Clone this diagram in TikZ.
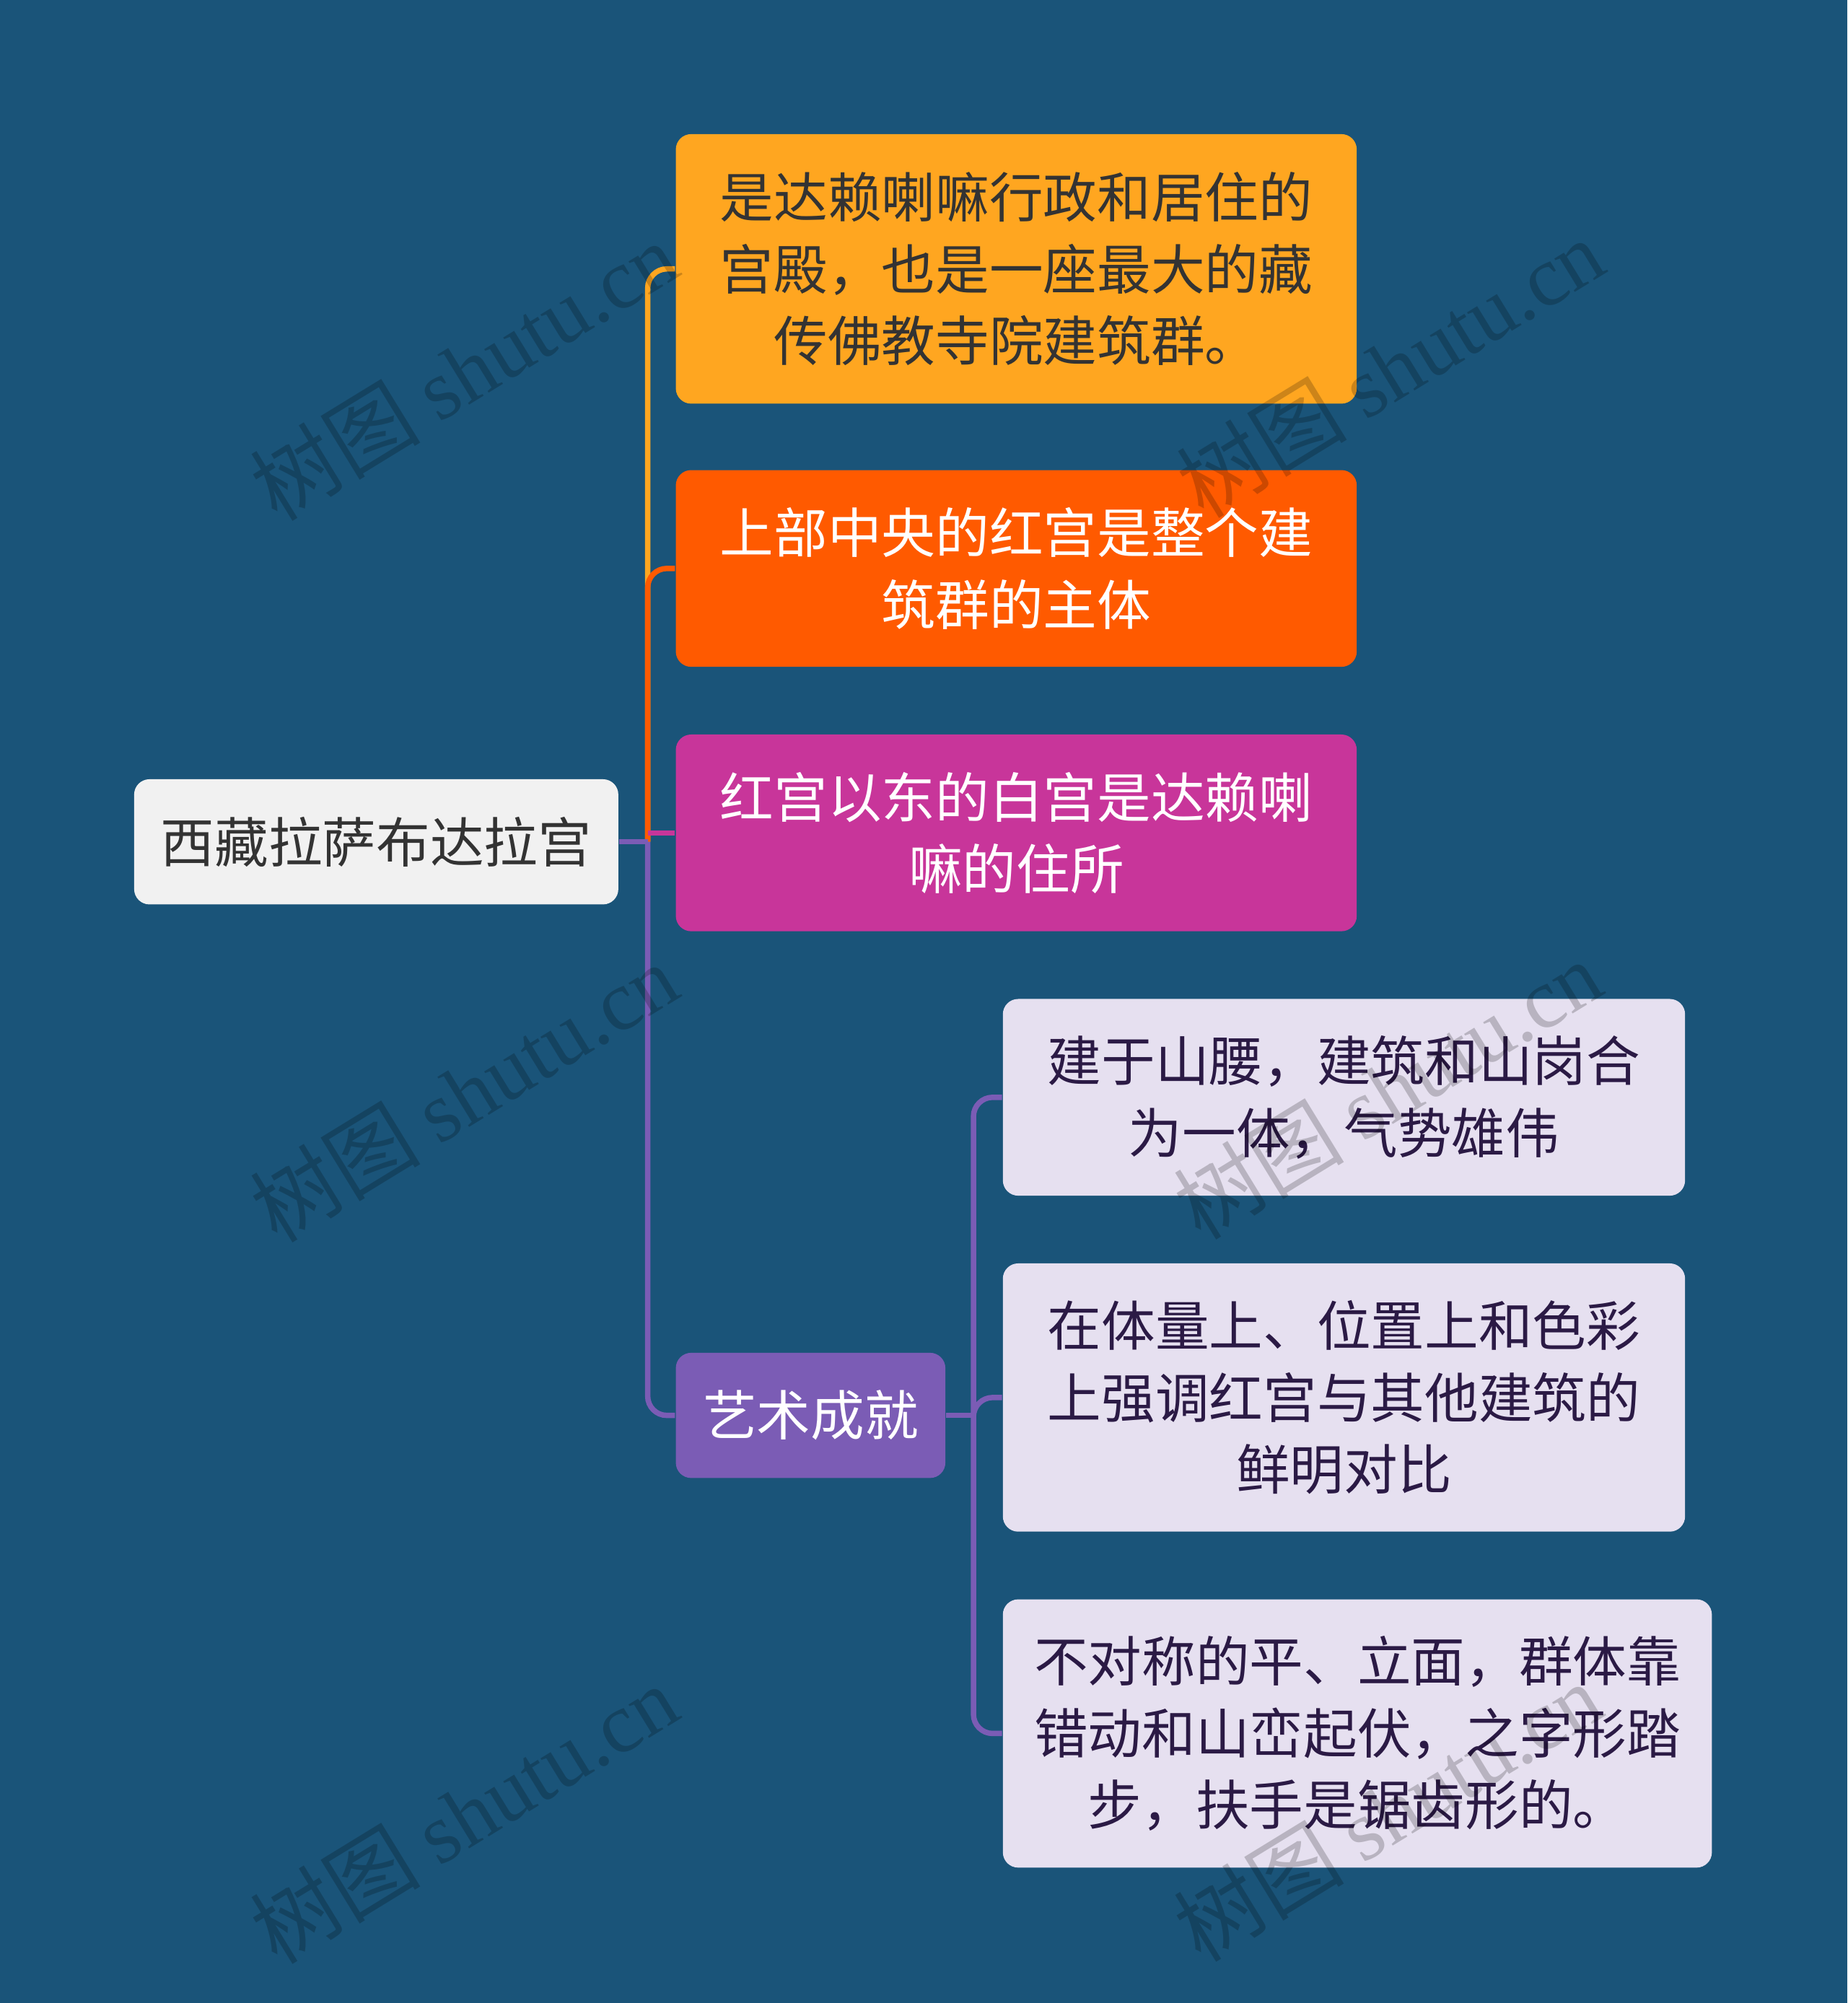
\documentclass[tikz,border=0pt]{standalone}
\usepackage{fontspec}
\setmainfont{Noto Sans CJK SC}
\newfontfamily\markfont{Liberation Serif}
\newfontfamily\markcjk{Noto Sans CJK SC}

\definecolor{bgblue}{HTML}{1A5479}
\definecolor{orangeA}{HTML}{FFA620}
\definecolor{orangeB}{HTML}{FF5A00}
\definecolor{magentaC}{HTML}{C8359A}
\definecolor{purpleD}{HTML}{7B5CB5}
\definecolor{lavender}{HTML}{E6E0F0}
\definecolor{rootgray}{HTML}{F1F1F1}
\definecolor{darktext}{HTML}{333333}
\definecolor{plumtext}{HTML}{2B1A45}

\tikzset{
  box/.style={rounded corners=0.12cm, inner sep=0pt, align=center,
    font=\fontsize{12}{16}\selectfont},
  link/.style={line width=1.2pt, rounded corners=0.15cm},
  wmark/.style={rotate=31.5, black, opacity=0.2,
    font=\fontsize{19}{19}\selectfont}
}

\begin{document}
\begin{tikzpicture}

   \fill [bgblue] (0,0) rectangle (14.46,-15.68);
   \useasboundingbox (0,0) rectangle (14.46,-15.68);

   % root and first level
   \node [box, fill=rootgray, text=darktext, minimum width=3.79cm, minimum height=0.98cm]
     (root) at (2.945,-6.59) {西藏拉萨布达拉宫};
   \node [box, fill=orangeA, text=darktext, minimum width=5.33cm, minimum height=2.11cm]
     (palace) at (7.955,-2.105) {是达赖喇嘛行政和居住的\\宫殿，也是一座最大的藏\\传佛教寺院建筑群。};
   \node [box, fill=orangeB, text=white, minimum width=5.33cm, minimum height=1.54cm]
     (red) at (7.955,-4.45) {上部中央的红宫是整个建\\筑群的主体};
   \node [box, fill=magentaC, text=white, minimum width=5.33cm, minimum height=1.54cm]
     (white) at (7.955,-6.52) {红宫以东的白宫是达赖喇\\嘛的住所};
   \node [box, fill=purpleD, text=white, minimum width=2.11cm, minimum height=0.98cm]
     (art) at (6.345,-11.08) {艺术成就};

   % second level
   \node [box, fill=lavender, text=plumtext, minimum width=5.34cm, minimum height=1.54cm]
     (hill) at (10.52,-8.59) {建于山腰，建筑和山岗合\\为一体，气势雄伟};
   \node [box, fill=lavender, text=plumtext, minimum width=5.34cm, minimum height=2.10cm]
     (contrast) at (10.52,-10.94) {在体量上、位置上和色彩\\上强调红宫与其他建筑的\\鲜明对比};
   \node [box, fill=lavender, text=plumtext, minimum width=5.55cm, minimum height=2.10cm]
     (stairs) at (10.625,-13.57) {不对称的平、立面，群体靠\\错动和山峦起伏，之字形踏\\步，扶手是锯齿形的。};

   \coordinate (j1) at (5.07,-6.59);
   \coordinate (j2) at (7.62,-11.08);

   \draw [link, orangeA] (j1) |- (palace.west);
   \draw [link, orangeB] (j1) |- (red.west);
   \draw [link, magentaC] (j1 |- white.west) -- (white.west);
   \draw [link, purpleD] (j1) |- (art.west);
   \draw [link, purpleD] (root.east) -- (j1);

   \draw [link, purpleD] (j2) |- (hill.west);
   \draw [link, purpleD] (j2) |- (contrast.west);
   \draw [link, purpleD] (j2) |- (stairs.west);
   \draw [link, purpleD] (art.east) -- (j2);

   % watermarks
   \foreach \wx/\wy/\wn in {3.63/-2.90/m1, 10.88/-2.88/m2, 3.63/-8.55/m3,
                            10.86/-8.53/m4, 3.63/-14.20/m5, 10.86/-14.18/m6}
     \node [wmark] (\wn) at (\wx,\wy) {\markcjk 树图 \markfont shutu.cn};

\end{tikzpicture}
\end{document}
